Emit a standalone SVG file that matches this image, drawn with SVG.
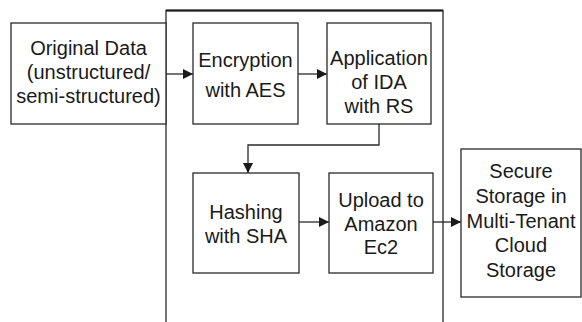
<svg xmlns="http://www.w3.org/2000/svg" width="582" height="322" viewBox="0 0 582 322">
<style>
.box{fill:#fff;stroke:#2a2a2a;stroke-width:1.3}
.ln{fill:none;stroke:#2a2a2a;stroke-width:1.3}
text{font-family:"Liberation Sans",Arial,sans-serif;font-size:20px;fill:#1a1a1a;text-anchor:middle}
</style>
<defs>
<marker id="ah" viewBox="0 0 10 10" refX="10" refY="5" markerWidth="10" markerHeight="10" markerUnits="userSpaceOnUse" orient="auto">
<path d="M0,0 L10,5 L0,10 Z" fill="#1a1a1a"/>
</marker>
</defs>
<g id="container">
<path class="ln" d="M166,322 V10.5 H443 V322"/>
<path d="M166,10.5 H443" stroke="#1a1a1a" stroke-width="2.2" fill="none"/>
</g>
<g id="connectors">
<path class="ln" d="M166,74 H193" marker-end="url(#ah)"/>
<path class="ln" d="M298,74 H327" marker-end="url(#ah)"/>
<path class="ln" d="M379,124 V145 H248 V173" marker-end="url(#ah)"/>
<path class="ln" d="M299,222 H329" marker-end="url(#ah)"/>
<path class="ln" d="M433,222 H461" marker-end="url(#ah)"/>
</g>
<g id="original">
<rect class="box" x="11" y="23" width="155" height="101"/>
<text x="88.5" y="55">Original Data</text>
<text x="88.5" y="79">(unstructured/</text>
<text x="88.5" y="103">semi-structured)</text>
</g>
<g id="encryption">
<rect class="box" x="193" y="23" width="105" height="101"/>
<text x="245.5" y="67">Encryption</text>
<text x="245.5" y="97">with AES</text>
</g>
<g id="ida">
<rect class="box" x="327" y="23" width="104" height="101"/>
<text x="379" y="65">Application</text>
<text x="379" y="89">of IDA</text>
<text x="379" y="113">with RS</text>
</g>
<g id="hashing">
<rect class="box" x="193" y="173" width="106" height="100"/>
<text x="246" y="219">Hashing</text>
<text x="246" y="243">with SHA</text>
</g>
<g id="upload">
<rect class="box" x="329" y="173" width="104" height="100"/>
<text x="381" y="207">Upload to</text>
<text x="381" y="231">Amazon</text>
<text x="381" y="254">Ec2</text>
</g>
<g id="storage">
<rect class="box" x="461" y="149" width="120" height="148"/>
<text x="521" y="178">Secure</text>
<text x="521" y="203">Storage in</text>
<text x="521" y="228">Multi-Tenant</text>
<text x="521" y="252">Cloud</text>
<text x="521" y="277">Storage</text>
</g>
</svg>
